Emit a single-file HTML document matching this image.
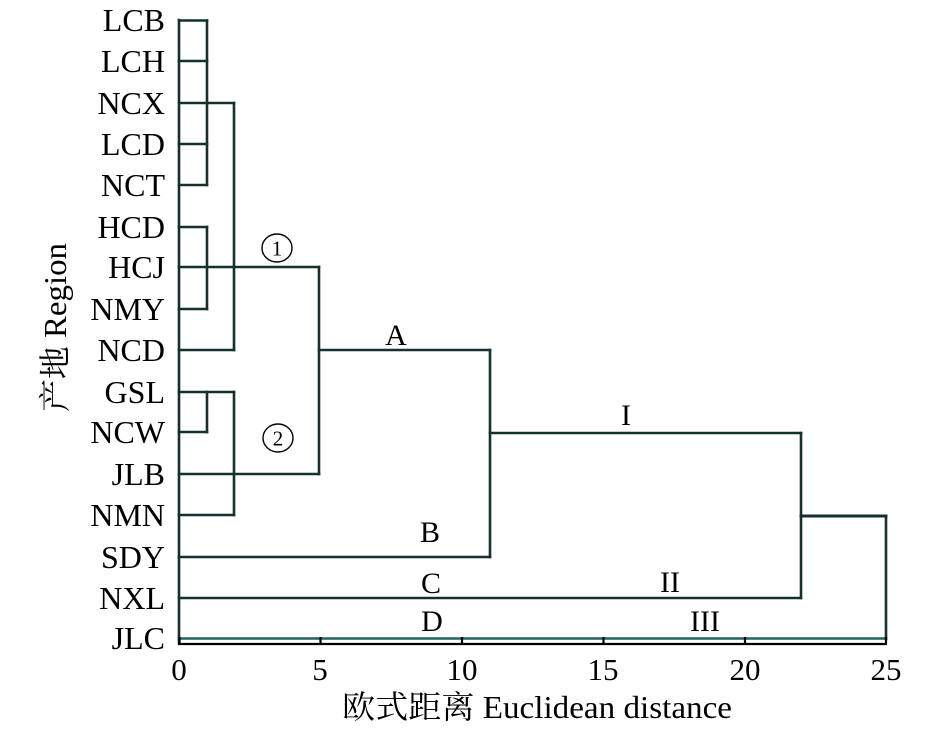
<!DOCTYPE html>
<html>
<head>
<meta charset="utf-8">
<style>
  html, body { margin:0; padding:0; background:#ffffff; }
  svg { display:block; }
  text { font-family: "Liberation Serif", "Noto Serif CJK SC", serif; fill:#000; }
</style>
</head>
<body>
<svg width="945" height="732" viewBox="0 0 945 732" xmlns="http://www.w3.org/2000/svg">
  <g stroke="#14302f" stroke-width="2.6" fill="none" stroke-linecap="square">
    <!-- left vertical (x=0) -->
    <line x1="179" y1="20" x2="179" y2="643"/>
    <!-- leaves group 1 -->
    <line x1="179" y1="20.5" x2="207" y2="20.5"/>
    <line x1="179" y1="61" x2="207" y2="61"/>
    <line x1="179" y1="103" x2="234" y2="103"/>
    <line x1="179" y1="144" x2="207" y2="144"/>
    <line x1="179" y1="185" x2="207" y2="185"/>
    <line x1="207" y1="20.5" x2="207" y2="185"/>
    <!-- group HCD/HCJ/NMY -->
    <line x1="179" y1="227" x2="207" y2="227"/>
    <line x1="179" y1="267" x2="319" y2="267"/>
    <line x1="179" y1="309" x2="207" y2="309"/>
    <line x1="207" y1="227" x2="207" y2="309"/>
    <!-- NCD -->
    <line x1="179" y1="350" x2="234" y2="350"/>
    <line x1="234" y1="103" x2="234" y2="350"/>
    <!-- group 2 -->
    <line x1="179" y1="392" x2="234" y2="392"/>
    <line x1="179" y1="432" x2="207" y2="432"/>
    <line x1="207" y1="392" x2="207" y2="432"/>
    <line x1="179" y1="474" x2="319" y2="474"/>
    <line x1="179" y1="515" x2="234" y2="515"/>
    <line x1="234" y1="392" x2="234" y2="515"/>
    <!-- x=5 join -->
    <line x1="319" y1="267" x2="319" y2="474"/>
    <line x1="319" y1="350" x2="490" y2="350"/>
    <!-- SDY -->
    <line x1="179" y1="557" x2="490" y2="557"/>
    <line x1="490" y1="350" x2="490" y2="557"/>
    <line x1="490" y1="433" x2="801" y2="433"/>
    <!-- NXL -->
    <line x1="179" y1="598" x2="801" y2="598"/>
    <line x1="801" y1="433" x2="801" y2="598"/>
    <line x1="801" y1="516" x2="886" y2="516" stroke-width="3"/>
    <!-- JLC -->
    <line x1="179" y1="638.5" x2="886" y2="638.5" stroke="#24605e"/>
    <line x1="886" y1="516" x2="886" y2="638.5"/>
  </g>
  <!-- x axis -->
  <g stroke="#000" stroke-width="2.2">
    <line x1="178" y1="644" x2="887" y2="644"/>
    <line x1="179.5" y1="637" x2="179.5" y2="644"/>
    <line x1="320.5" y1="637" x2="320.5" y2="644"/>
    <line x1="462" y1="637" x2="462" y2="644"/>
    <line x1="603.5" y1="637" x2="603.5" y2="644"/>
    <line x1="745" y1="637" x2="745" y2="644"/>
    <line x1="886" y1="637" x2="886" y2="644"/>
  </g>
  <!-- tick labels -->
  <g font-size="31" text-anchor="middle">
    <text x="179" y="680">0</text>
    <text x="320" y="680">5</text>
    <text x="462" y="680">10</text>
    <text x="603" y="680">15</text>
    <text x="745" y="680">20</text>
    <text x="886" y="680">25</text>
  </g>
  <!-- row labels -->
  <g font-size="32" text-anchor="end">
    <text x="165" y="31">LCB</text>
    <text x="165" y="72">LCH</text>
    <text x="165" y="114">NCX</text>
    <text x="165" y="155">LCD</text>
    <text x="165" y="196">NCT</text>
    <text x="165" y="238">HCD</text>
    <text x="165" y="278">HCJ</text>
    <text x="165" y="320">NMY</text>
    <text x="165" y="361">NCD</text>
    <text x="165" y="403">GSL</text>
    <text x="165" y="443">NCW</text>
    <text x="165" y="485">JLB</text>
    <text x="165" y="526">NMN</text>
    <text x="165" y="568">SDY</text>
    <text x="165" y="609">NXL</text>
    <text x="165" y="649">JLC</text>
  </g>
  <!-- axis titles -->
  <text x="342" y="718" font-size="32" textLength="390" lengthAdjust="spacingAndGlyphs">欧式距离 Euclidean distance</text>
  <text transform="translate(66,327.5) rotate(-90)" font-size="32" text-anchor="middle" textLength="169" lengthAdjust="spacingAndGlyphs">产地 Region</text>
  <!-- cluster labels -->
  <g stroke="#000" stroke-width="1.4" fill="none">
    <ellipse cx="277" cy="248" rx="15" ry="14"/>
    <ellipse cx="278" cy="438" rx="15" ry="14"/>
  </g>
  <g font-size="21" text-anchor="middle">
    <text x="277" y="255.5">1</text>
    <text x="278" y="445.5">2</text>
  </g>
  <g font-size="30" text-anchor="middle">
    <text x="396" y="345">A</text>
    <text x="430" y="542">B</text>
    <text x="431" y="593">C</text>
    <text x="432" y="631">D</text>
    <text x="626" y="425">I</text>
    <text x="670" y="592">II</text>
    <text x="705" y="631">III</text>
  </g>
</svg>
</body>
</html>
